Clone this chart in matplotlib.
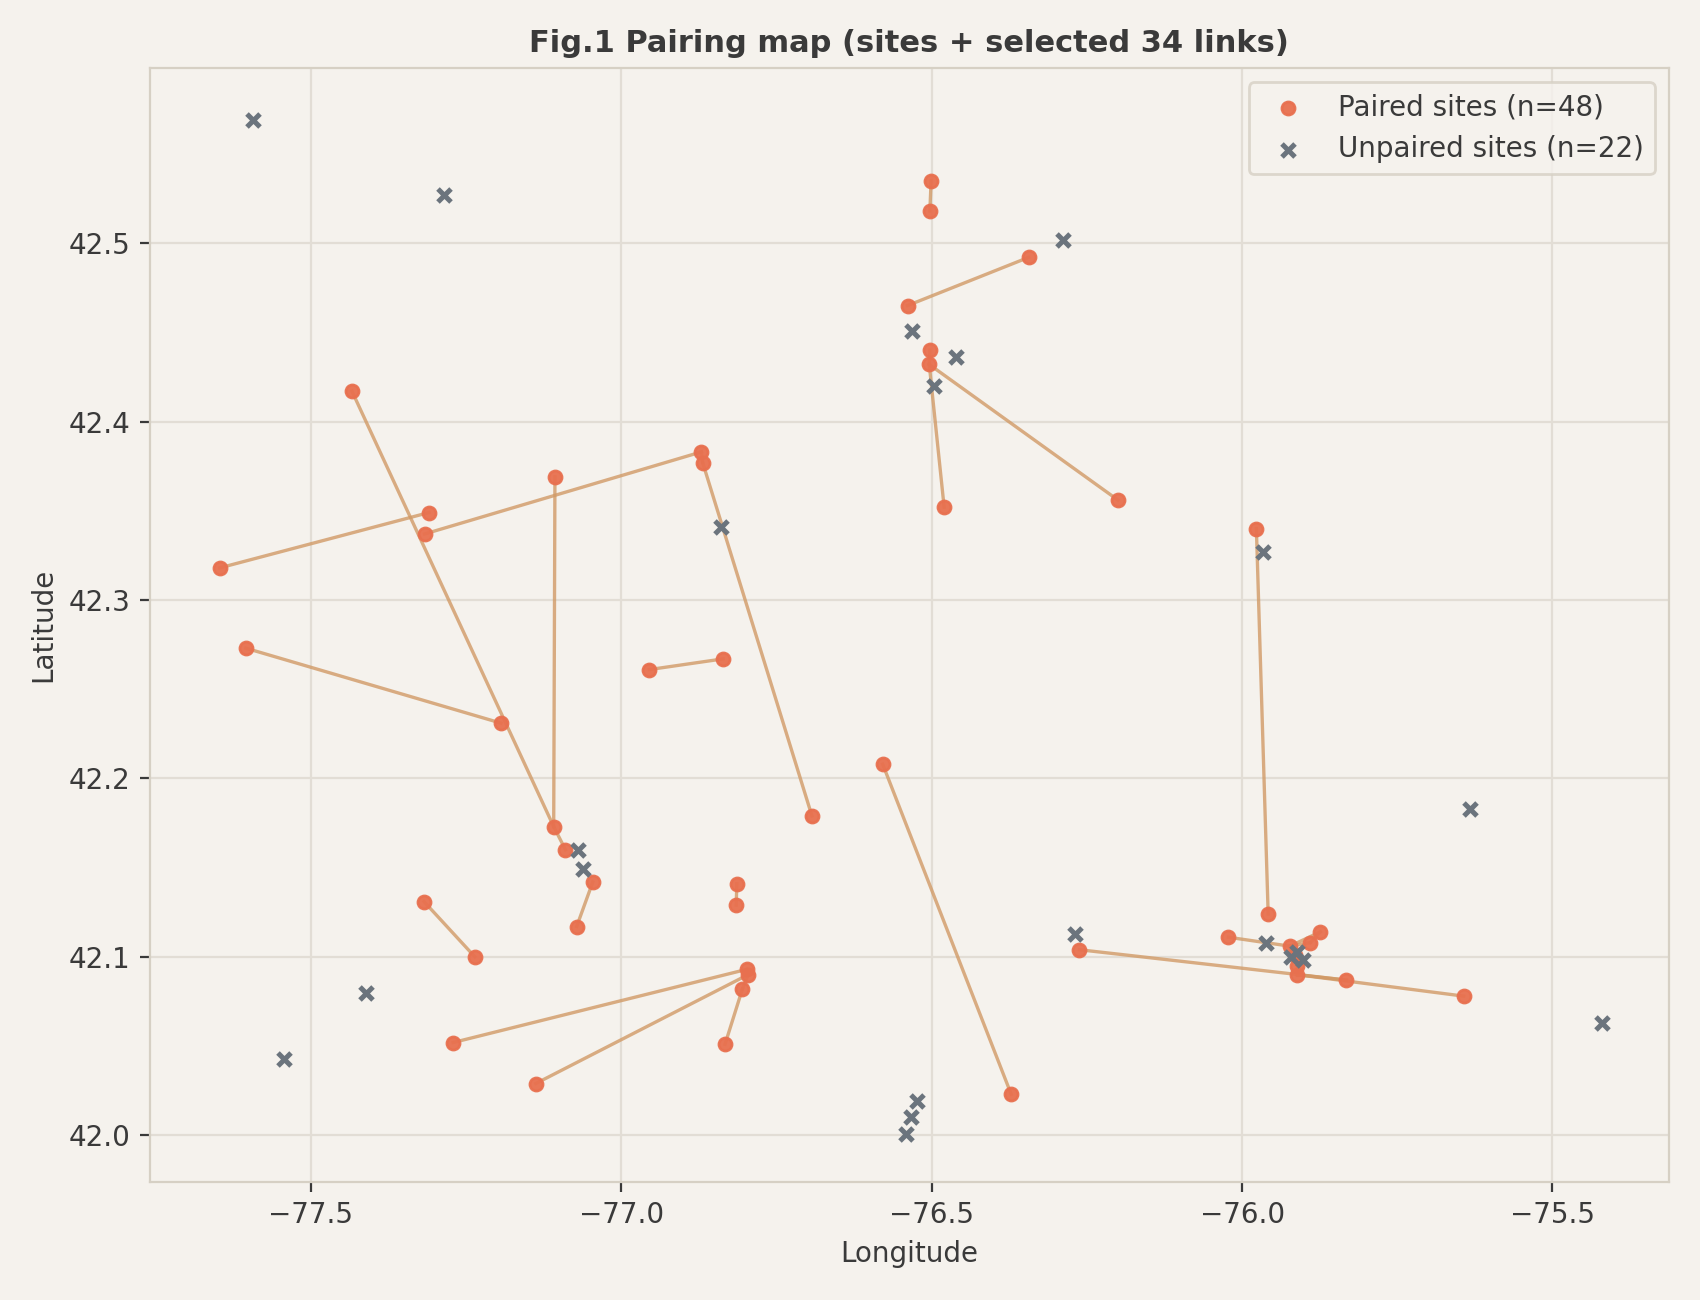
import matplotlib.pyplot as plt
import numpy as np

# paired sites (lon, lat)
paired_lon = [-76.501, -76.503, -76.344, -76.539, -76.503, -76.504, -76.480, -76.200,
              -77.434, -77.107, -77.310, -77.317, -77.647, -76.871, -76.869, -77.605,
              -77.194, -76.955, -76.836, -76.693, -76.579, -76.372, -77.109, -77.090,
              -77.046, -77.072, -77.318, -77.236, -77.271, -77.138, -76.814, -76.815,
              -76.798, -76.796, -76.805, -76.833, -75.977, -75.958, -76.262, -76.022,
              -75.923, -75.890, -75.874, -75.911, -75.911, -75.832, -75.643, -75.915]
paired_lat = [42.535, 42.518, 42.492, 42.465, 42.440, 42.432, 42.352, 42.356,
              42.417, 42.369, 42.349, 42.337, 42.318, 42.383, 42.377, 42.273,
              42.231, 42.261, 42.267, 42.179, 42.208, 42.023, 42.173, 42.160,
              42.142, 42.117, 42.131, 42.100, 42.052, 42.029, 42.141, 42.129,
              42.093, 42.090, 42.082, 42.051, 42.340, 42.124, 42.104, 42.111,
              42.106, 42.108, 42.114, 42.095, 42.090, 42.087, 42.078, 42.101]

unpaired_lon = [-77.594, -77.285, -76.288, -76.532, -76.461, -76.497, -76.840, -75.966,
                -77.070, -77.062, -77.411, -77.544, -75.633, -76.270, -75.961, -75.921,
                -75.911, -75.902, -75.421, -76.523, -76.534, -76.541]
unpaired_lat = [42.569, 42.527, 42.502, 42.451, 42.436, 42.420, 42.341, 42.327,
                42.160, 42.149, 42.080, 42.043, 42.183, 42.113, 42.108, 42.100,
                42.103, 42.098, 42.063, 42.019, 42.010, 42.001]

# links as index pairs into paired sites
links = [(0, 1), (2, 3), (5, 7), (5, 6), (4, 5), (8, 22), (9, 22), (12, 10), (11, 13),
         (13, 14), (14, 19), (15, 16), (17, 18), (20, 21), (22, 23), (24, 25), (26, 27),
         (28, 32), (29, 33), (30, 31), (32, 33), (33, 34), (34, 35), (36, 37), (38, 45),
         (44, 46), (39, 40), (40, 42), (41, 42), (40, 47), (47, 43), (43, 44), (40, 41),
         (44, 45)]

plt.rcParams['font.family'] = 'DejaVu Sans'
bg = '#f5f2ed'
fig, ax = plt.subplots(figsize=(8.5, 6.5), dpi=200)
fig.patch.set_facecolor(bg)
ax.set_facecolor(bg)

for a, b in links:
    ax.plot([paired_lon[a], paired_lon[b]], [paired_lat[a], paired_lat[b]],
            color='#d19a66', alpha=0.8, lw=1.2, zorder=1)

ax.scatter(paired_lon, paired_lat, s=22, c='#e8704f', alpha=0.95,
           label='Paired sites (n=%d)' % len(paired_lon), zorder=3)
ax.scatter(unpaired_lon, unpaired_lat, s=22, c='#6b747d', marker='x', linewidths=1.8,
           label='Unpaired sites (n=%d)' % len(unpaired_lon), zorder=4)

ax.set_xlim(-77.76, -75.313)
ax.set_ylim(41.974, 42.598)
ax.set_xticks([-77.5, -77.0, -76.5, -76.0, -75.5])
ax.set_yticks([42.0, 42.1, 42.2, 42.3, 42.4, 42.5])
ax.grid(True, color='#e2ddd5', lw=0.8)
ax.set_axisbelow(True)
for s in ax.spines.values():
    s.set_color('#d6d0c4')
ax.tick_params(colors='#3a3a3a', labelsize=10, length=3.5, width=0.8)
ax.set_xlabel('Longitude', color='#3a3a3a', fontsize=10)
ax.set_ylabel('Latitude', color='#3a3a3a', fontsize=10)
ax.set_title('Fig.1 Pairing map (sites + selected %d links)' % len(links),
             fontweight='bold', color='#3a3a3a', fontsize=11)
leg = ax.legend(loc='upper right', fontsize=10, facecolor=bg, edgecolor='#d6d0c4',
                labelcolor='#3a3a3a')

fig.subplots_adjust(left=0.088, right=0.9815, top=0.9475, bottom=0.091)
fig.savefig('out.png', dpi=200, facecolor=bg)
